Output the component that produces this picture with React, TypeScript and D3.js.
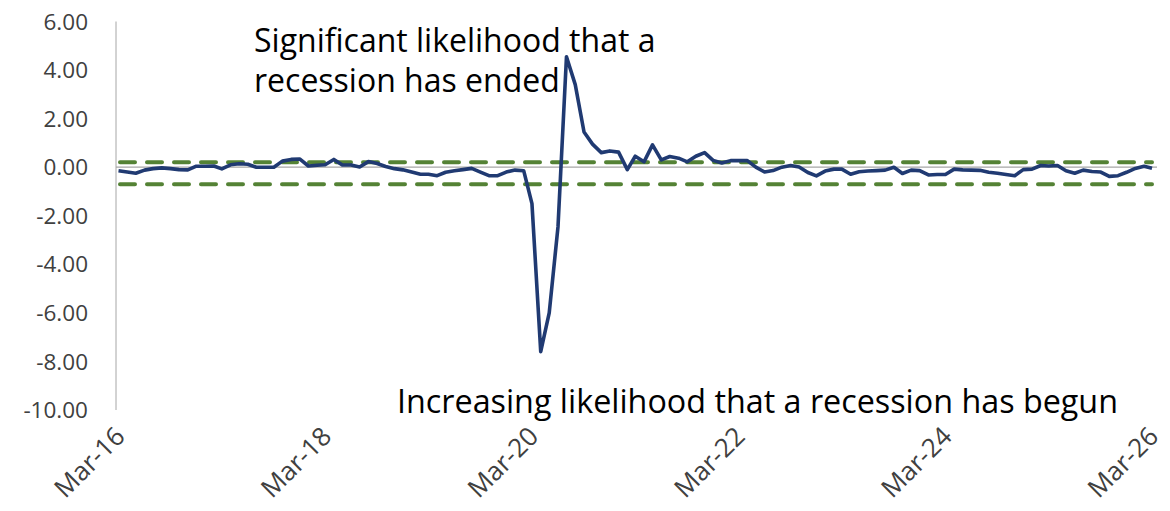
import React, { useEffect, useRef } from 'react'
import * as d3 from 'd3'

// CFNAI-MA3 style index, monthly Mar-16 .. Mar-26
const startMonth = new Date(2016, 2, 1)
const values: number[] = [
  -0.15, -0.20, -0.25, -0.12, -0.06, -0.03, -0.06, -0.10, -0.11, 0.04, 0.04, 0.05,
  -0.07, 0.10, 0.14, 0.12, 0.00, 0.00, 0.00, 0.25, 0.32, 0.34, 0.05, 0.08,
  0.10, 0.32, 0.09, 0.09, 0.01, 0.23, 0.15, 0.03, -0.06, -0.11, -0.20, -0.29,
  -0.29, -0.35, -0.21, -0.15, -0.10, -0.05, -0.20, -0.35, -0.35, -0.20, -0.12, -0.15,
  -1.50, -7.60, -6.00, -2.46, 4.55, 3.40, 1.45, 0.95, 0.60, 0.67, 0.62, -0.10,
  0.45, 0.22, 0.92, 0.30, 0.44, 0.37, 0.22, 0.45, 0.60, 0.28, 0.17, 0.27,
  0.27, 0.27, 0.00, -0.20, -0.14, 0.00, 0.07, 0.01, -0.22, -0.36, -0.16, -0.08,
  -0.08, -0.29, -0.19, -0.16, -0.14, -0.12, 0.00, -0.26, -0.12, -0.14, -0.32, -0.30,
  -0.30, -0.08, -0.11, -0.12, -0.13, -0.21, -0.25, -0.30, -0.35, -0.10, -0.08, 0.07,
  0.05, 0.07, -0.15, -0.25, -0.12, -0.18, -0.20, -0.38, -0.35, -0.21, -0.05, 0.04,
  -0.04,
]
const thresholds = [0.2, -0.7]
const yTicks = [6, 4, 2, 0, -2, -4, -6, -8, -10]
const xTickLabels = ['Mar-16', 'Mar-18', 'Mar-20', 'Mar-22', 'Mar-24', 'Mar-26']
const topNote = ['Significant likelihood that a', 'recession has ended']
const bottomNote = 'Increasing likelihood that a recession has begun'

const W = 1170, H = 511
const FONT = '"Open Sans", sans-serif'

export default function App(){
  const svgRef = useRef<SVGSVGElement>(null)

  useEffect(()=>{
    const svg = d3.select(svgRef.current)
    svg.selectAll('*').remove()
    const dates = values.map((_,i)=>d3.timeMonth.offset(startMonth, i))
    const x = d3.scaleTime().domain([startMonth, dates[dates.length-1]]).range([118.5, 1152])
    const y = d3.scaleLinear().domain([-10, 6]).range([410, 21.5])
    const xTicks = xTickLabels.map((_,i)=>d3.timeMonth.offset(startMonth, i*24))
    const fmt = (v:number)=>d3.format('.2f')(v).replace('\u2212','-')

    // y axis line
    svg.append('line').attr('x1',116).attr('x2',116).attr('y1',y(6)).attr('y2',y(-10))
      .attr('stroke','#a6a6a6').attr('stroke-width',1)
    // zero line
    svg.append('line').attr('x1',116).attr('x2',1157).attr('y1',y(0)).attr('y2',y(0))
      .attr('stroke','#a6a6a6').attr('stroke-width',1.2)

    svg.append('g').selectAll('text').data(yTicks).join('text')
      .attr('x',88).attr('y',d=>y(d)).attr('dy','0.36em').attr('text-anchor','end')
      .attr('font-family',FONT).attr('font-size',22.5).attr('fill','#404040')
      .text(d=>fmt(d))

    svg.append('g').selectAll('text').data(xTicks).join('text')
      .attr('text-anchor','end').attr('font-family',FONT).attr('font-size',26).attr('fill','#404040')
      .attr('transform',d=>`translate(${x(d)+8},438) rotate(-45)`)
      .text((_,i)=>xTickLabels[i])

    svg.append('g').selectAll('line').data(thresholds).join('line')
      .attr('x1',120).attr('x2',1152).attr('y1',d=>y(d)).attr('y2',d=>y(d))
      .attr('stroke','#548235').attr('stroke-width',4).attr('stroke-dasharray','15 12')
      .attr('stroke-linecap','round')

    const line = d3.line<number>().x((_,i)=>x(dates[i])).y(d=>y(d))
    svg.append('path').datum(values).attr('d',line).attr('fill','none')
      .attr('stroke','#203a72').attr('stroke-width',3.6).attr('stroke-linejoin','round')

    svg.append('g').selectAll('text').data(topNote).join('text')
      .attr('x',254).attr('y',(_,i)=>52+i*40).attr('font-family',FONT).attr('font-size',32)
      .attr('fill','#000').text(d=>d)
    svg.append('text').attr('x',397).attr('y',413).attr('font-family',FONT).attr('font-size',32.3)
      .attr('fill','#000').text(bottomNote)
  },[])

  return <svg ref={svgRef} width={W} height={H} style={{position:'absolute',left:0,top:0,background:'#fff'}} />
}
